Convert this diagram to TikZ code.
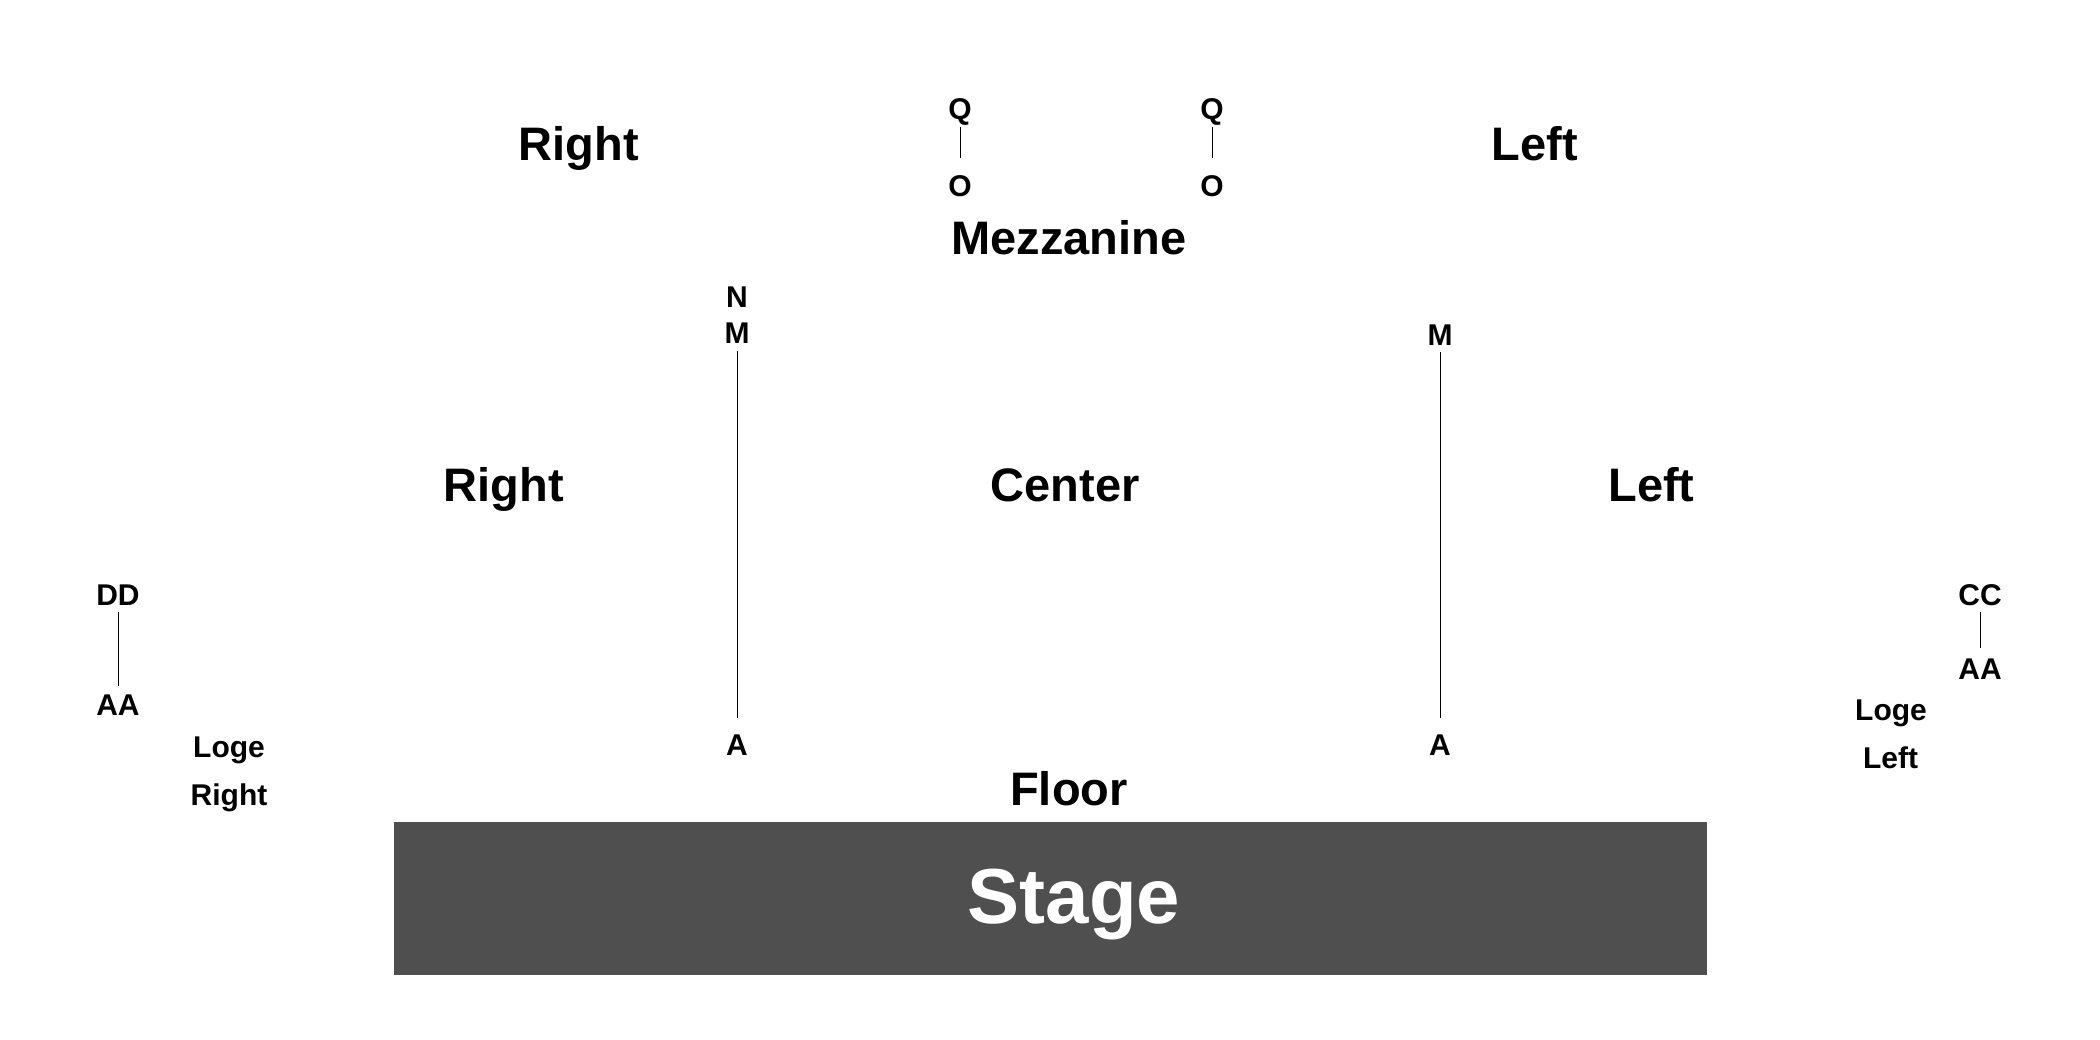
\documentclass[tikz,border=0pt]{standalone}
\usepackage{fontspec}
\setmainfont{Liberation Sans}[BoldFont={Liberation Sans Bold}]
\newcommand\lblbig{\fontsize{47}{56}\selectfont\bfseries}
\newcommand\lblsmall{\fontsize{30}{36}\selectfont\bfseries}
\newcommand\lblstage{\fontsize{78}{90}\selectfont\bfseries}
\definecolor{stagegray}{RGB}{79,79,79}
\tikzset{
  biglbl/.style={font=\lblbig, inner sep=0pt, anchor=base, text height=33.5pt, text depth=0pt},
  rowlbl/.style={font=\lblsmall, inner sep=0pt, anchor=base, text height=21.5pt, text depth=0pt},
  rowline/.style={line width=1pt, black, shorten <=6.5pt},
}
\begin{document}
\begin{tikzpicture}[x=1pt,y=-1pt]
\useasboundingbox (0,0) rectangle (2100,1040);
\fill[white] (0,0) rectangle (2100,1040);
% Mezzanine
\node[biglbl] (mezzR) at (579,161) {Right};
\node[biglbl] (mezzL) at (1535,161) {Left};
\node[rowlbl] (q1) at (960,120) {Q};
\node[rowlbl] (o1) at (960,197) {O};
\node[rowlbl] (q2) at (1212,120) {Q};
\node[rowlbl] (o2) at (1212,197) {O};
\node[biglbl] (mezz) at (1069,255) {Mezzanine};
\draw[rowline, shorten >=17.5pt] (q1.south) -- (o1.north);
\draw[rowline, shorten >=17.5pt] (q2.south) -- (o2.north);
% Floor
\node[rowlbl] (n1) at (737,308) {N};
\node[rowlbl] (m1) at (737,344) {M};
\node[rowlbl] (a1) at (737,755) {A};
\node[rowlbl] (m2) at (1440,345) {M};
\node[rowlbl] (a2) at (1440,755) {A};
\draw[rowline, shorten >=15.5pt] (m1.south) -- (a1.north);
\draw[rowline, shorten >=15.5pt] (m2.south) -- (a2.north);
\node[biglbl] (floorR) at (504,501) {Right};
\node[biglbl] (floorC) at (1065,501) {Center};
\node[biglbl] (floorL) at (1651.5,501) {Left};
% Loge right
\node[rowlbl] (dd) at (118,605) {DD};
\node[rowlbl] (aaR) at (118,715) {AA};
\draw[rowline, shorten >=7.5pt] (dd.south) -- (aaR.north);
\node[rowlbl] (logeR1) at (229,757) {Loge};
\node[rowlbl] (logeR2) at (229,805) {Right};
% Loge left
\node[rowlbl] (cc) at (1980,605) {CC};
\node[rowlbl] (aaL) at (1980,679) {AA};
\draw[rowline, shorten >=9.5pt] (cc.south) -- (aaL.north);
\node[rowlbl] (logeL1) at (1891,720) {Loge};
\node[rowlbl] (logeL2) at (1890.5,768) {Left};
% Floor label and stage
\node[biglbl] (floor) at (1069,805) {Floor};
\fill[stagegray] (394,822) rectangle (1707,975);
\node[font=\lblstage, text=white, inner sep=0pt, anchor=base] (stage) at (1074,923) {Stage};
\end{tikzpicture}
\end{document}
